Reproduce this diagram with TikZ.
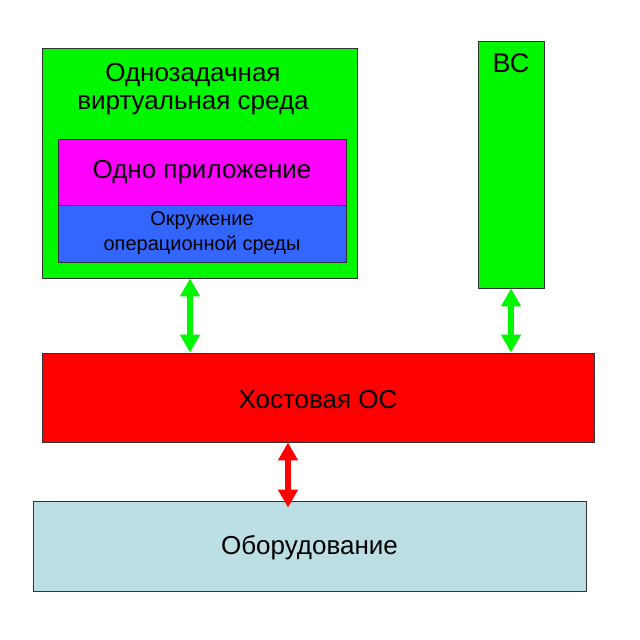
\documentclass[tikz,border=0pt]{standalone}
\usepackage{fontspec}
\setmainfont{Liberation Sans}
\usetikzlibrary{arrows.meta}

\definecolor{vmgreen}{HTML}{00F700}
\definecolor{appmag}{HTML}{FF00FF}
\definecolor{envblue}{HTML}{3366FF}
\definecolor{hostred}{HTML}{FF0000}
\definecolor{hwblue}{HTML}{BBDFE3}
\definecolor{edgegray}{HTML}{333333}

\tikzset{
  box/.style={draw=edgegray,line width=0.9pt,inner sep=0pt,align=center},
  bigtext/.style={font=\fontsize{26}{28}\selectfont},
  smalltext/.style={font=\fontsize{20}{25}\selectfont},
  link/.style={line width=6pt,{Triangle[width=19pt,length=18pt]}-{Triangle[width=19pt,length=18pt]}}
}

\begin{document}
\begin{tikzpicture}[x=1pt,y=-1pt]
\useasboundingbox[fill=white] (0,0) rectangle (640,640);

  \node[box,fill=vmgreen,minimum width=315pt,minimum height=230pt] (vm) at (199.5,163) {};
  \node[bigtext,align=center] (vmlabel) at (193,89) {Однозадачная\\виртуальная среда};
  \node[box,fill=appmag,bigtext,minimum width=288pt,minimum height=66pt] (app) at (202,172) {Одно приложение};
  \node[box,fill=envblue,smalltext,minimum width=288pt,minimum height=57pt] (env) at (202,233.5) {Окружение\\операционной среды};

  \node[box,fill=vmgreen,minimum width=66pt,minimum height=247pt] (bc) at (511,164.5) {};
  \node[font=\fontsize{27}{30}\selectfont] (bclabel) at (511,63) {ВС};

  \node[box,fill=hostred,minimum width=552pt,minimum height=89pt] (host) at (318,397.5) {};
  \node[bigtext] (hostlabel) at (318,400) {Хостовая ОС};
  \node[box,fill=hwblue,minimum width=553pt,minimum height=90pt] (hw) at (309.5,546) {};
  \node[bigtext] (hwlabel) at (309.5,548) {Оборудование};

  \coordinate (left) at (190,0);
  \coordinate (mid) at (288,0);
  \draw[link,vmgreen] (vm.south -| left) -- (host.north -| left);
  \draw[link,vmgreen] (bc.south) -- (bc.south |- host.north);
  \draw[link,hostred] (host.south -| mid) -- ([yshift=-7pt]hw.north -| mid);

\end{tikzpicture}
\end{document}
